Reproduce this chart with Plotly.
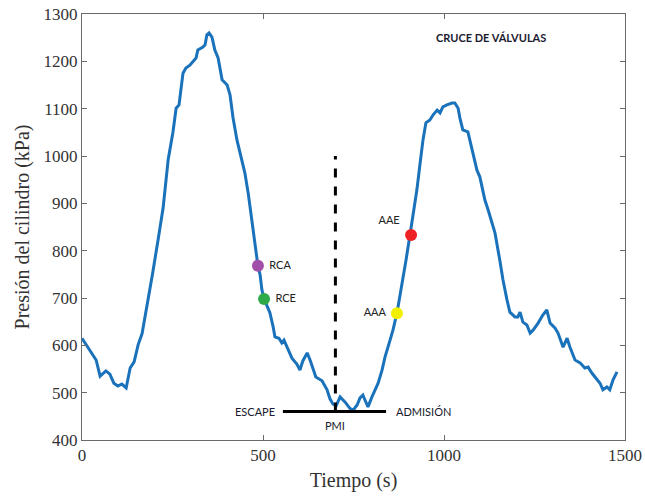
import plotly.graph_objects as go

# Pressure curve data (time s, pressure kPa)
time_s = [0, 22, 39, 50, 66, 77, 88, 99, 110, 122, 133, 144, 155, 166, 180, 195, 210, 224, 238, 251, 260, 268, 279, 287, 298, 307, 315, 320, 334, 340, 345, 351, 359, 367, 376, 387, 401, 409, 417, 428, 442, 450, 459, 464, 470, 478, 486, 492, 497, 503, 519, 528, 533, 544, 552, 558, 569, 580, 594, 602, 610, 622, 630, 638, 646, 663, 677, 685, 693, 702, 713, 727, 740, 749, 760, 768, 776, 782, 790, 801, 807, 818, 829, 837, 851, 859, 870, 884, 895, 906, 914, 925, 934, 942, 950, 961, 970, 981, 989, 997, 1008, 1022, 1030, 1039, 1044, 1052, 1066, 1077, 1091, 1099, 1113, 1122, 1141, 1155, 1163, 1174, 1182, 1196, 1204, 1210, 1218, 1229, 1238, 1246, 1260, 1273, 1284, 1293, 1307, 1315, 1329, 1340, 1348, 1362, 1376, 1389, 1398, 1409, 1423, 1431, 1439, 1450, 1458, 1467, 1478]
pressure = [615, 590, 569, 535, 546, 539, 520, 514, 518, 510, 552, 565, 601, 625, 683, 752, 822, 890, 992, 1049, 1101, 1108, 1175, 1186, 1192, 1199, 1207, 1224, 1230, 1235, 1256, 1260, 1251, 1224, 1207, 1161, 1150, 1129, 1082, 1034, 985, 964, 922, 892, 854, 812, 768, 749, 717, 698, 669, 639, 618, 615, 605, 611, 590, 573, 560, 548, 567, 584, 569, 552, 533, 525, 506, 487, 476, 472, 491, 480, 467, 463, 474, 489, 495, 484, 470, 491, 501, 520, 548, 575, 611, 632, 668, 727, 780, 833, 871, 928, 985, 1034, 1070, 1076, 1087, 1097, 1091, 1104, 1108, 1112, 1112, 1101, 1080, 1055, 1051, 1013, 970, 956, 907, 886, 837, 776, 738, 696, 670, 660, 660, 670, 649, 643, 626, 632, 647, 664, 675, 647, 636, 626, 596, 615, 596, 569, 563, 552, 554, 541, 527, 520, 506, 512, 506, 527, 544]

# Valve event markers
event_names = ["RCA", "RCE", "AAA", "AAE"]
event_time = [486, 503, 870, 909]
event_pressure = [768, 698, 668, 833]
event_colors = ["#A050A8", "#2EAA48", "#F2F000", "#EE2222"]
event_text_pos = ["middle right", "middle right", "middle left", "top left"]

# Reference lines
pmi_time = 700
pmi_top = 1000
pmi_bottom = 460
overlap_start = 555
overlap_end = 840

fig = go.Figure()

fig.add_trace(go.Scatter(x=time_s, y=pressure, mode="lines",
                         line=dict(color="#1A72BB", width=3), hoverinfo="skip"))

fig.add_trace(go.Scatter(x=[pmi_time, pmi_time], y=[pmi_bottom, pmi_top], mode="lines",
                         line=dict(color="black", width=3, dash="dash")))
fig.add_trace(go.Scatter(x=[overlap_start, overlap_end], y=[pmi_bottom, pmi_bottom], mode="lines",
                         line=dict(color="black", width=3)))

fig.add_trace(go.Scatter(x=event_time, y=event_pressure, mode="markers+text",
                         marker=dict(color=event_colors, size=12),
                         text=[" " + n + " " for n in event_names],
                         textposition=event_text_pos,
                         textfont=dict(family="Lato", size=11, color="#222222")))

sans = dict(family="Lato", size=11, color="#1a1a2e")
fig.add_annotation(x=overlap_start, y=pmi_bottom, text="ESCAPE", showarrow=False,
                   xanchor="right", xshift=-6, font=sans)
fig.add_annotation(x=overlap_end, y=pmi_bottom, text="ADMISIÓN", showarrow=False,
                   xanchor="left", xshift=8, font=sans)
fig.add_annotation(x=pmi_time, y=pmi_bottom, text="PMI", showarrow=False,
                   yanchor="top", yshift=-5, font=sans)
fig.add_annotation(x=1130, y=1250, text="<b>CRUCE DE VÁLVULAS</b>", showarrow=False,
                   font=dict(family="Lato", size=11, color="#1a1a2e"))

axis_common = dict(showline=True, mirror="ticks", linecolor="#6a6a6a", linewidth=1,
                   ticks="inside", ticklen=5, tickcolor="#6a6a6a",
                   showgrid=False, zeroline=False, automargin=False,
                   tickfont=dict(family="Liberation Serif", size=17, color="#333333"))

fig.update_layout(
    width=645, height=498,
    margin=dict(l=82, r=20, t=14, b=58),
    paper_bgcolor="white", plot_bgcolor="white",
    showlegend=False,
    xaxis=dict(range=[0, 1500], tickvals=[0, 500, 1000, 1500],
               title=dict(text="Tiempo (s)", standoff=8,
                          font=dict(family="Liberation Serif", size=20, color="#333333")),
               **axis_common),
    yaxis=dict(range=[400, 1300], tickvals=list(range(400, 1301, 100)),
               title=dict(text="Presión del cilindro (kPa)", standoff=8,
                          font=dict(family="Liberation Serif", size=20, color="#333333")),
               **axis_common),
)

fig.write_html("out.html")
